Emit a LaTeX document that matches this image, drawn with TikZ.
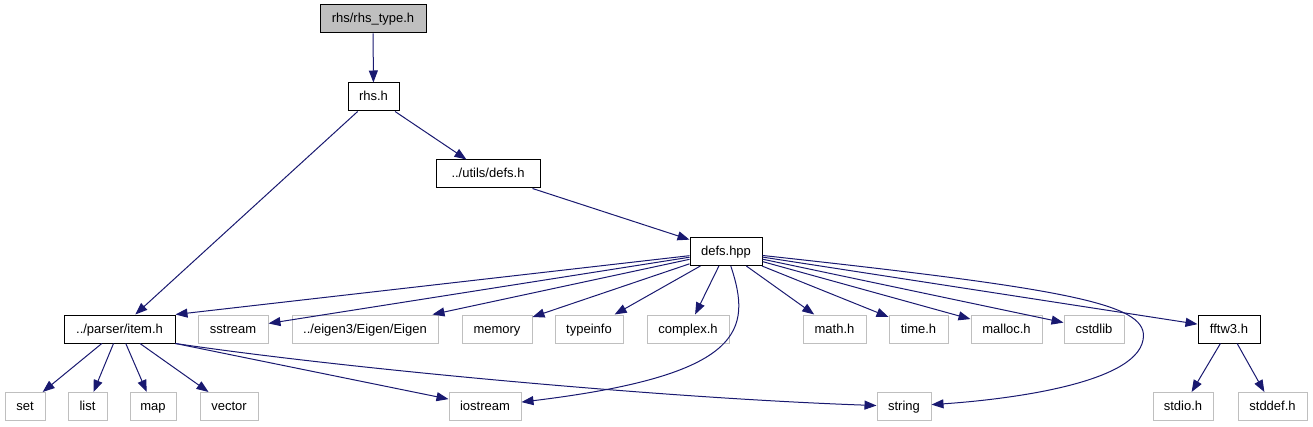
\documentclass[tikz,border=0pt]{standalone}
\usepackage{fontspec}
\setmainfont{Liberation Sans}
\usetikzlibrary{arrows.meta}
\definecolor{edgeblue}{HTML}{191970}
\definecolor{extgray}{HTML}{BFBFBF}

\begin{document}
\begin{tikzpicture}[
    x=1pt,y=-1pt,font=\fontsize{13}{15}\selectfont,
    header/.style={draw,line width=1pt,inner sep=0pt,minimum height=28pt,
        minimum width=#1,text height=11pt,text depth=3pt},
    system/.style={header=#1,draw=extgray},
    current/.style={header=#1,fill=extgray},
    dep/.style={draw=edgeblue,line width=1pt,
        -{Triangle[length=12pt,width=9pt]}}
]
    \useasboundingbox (0,0) rectangle (1313,427);

    % Project headers, top of the include chain.
    \node[current=106] (rhstype) at (373,19) {rhs/rhs\_type.h};
    \node[header=51] (rhs) at (373.5,97) {rhs.h};
    \node[header=104] (udefs) at (488,174) {../utils/defs.h};
    \node[header=72] (defs) at (726,251.5) {defs.hpp};

    % Row included by defs.hpp.
    \node[header=111] (item) at (119.5,329) {../parser/item.h};
    \node[system=70] (sstream) at (233,329) {sstream};
    \node[system=146] (eigen) at (365,329) {../eigen3/Eigen/Eigen};
    \node[system=70] (memory) at (497,329) {memory};
    \node[system=68] (typeinfo) at (589,329) {typeinfo};
    \node[system=82] (complex) at (688,329) {complex.h};
    \node[system=63] (math) at (834.5,329) {math.h};
    \node[system=59] (time) at (918.5,329) {time.h};
    \node[system=71] (malloc) at (1006.5,329) {malloc.h};
    \node[system=60] (cstdlib) at (1094,329) {cstdlib};
    \node[header=62] (fftw) at (1229,329) {fftw3.h};

    % Bottom row: standard headers.
    \node[system=40] (set) at (25,406.5) {set};
    \node[system=39] (list) at (87.5,406.5) {list};
    \node[system=46] (map) at (153,406.5) {map};
    \node[system=58] (vector) at (229,406.5) {vector};
    \node[system=72] (iostream) at (485,406.5) {iostream};
    \node[system=54] (string) at (904,406.5) {string};
    \node[system=60] (stdio) at (1183,406.5) {stdio.h};
    \node[system=69] (stddef) at (1272.5,406.5) {stddef.h};

    \draw[dep] (rhstype) -- (rhs);
    \draw[dep] (rhs) -- (item);
    \draw[dep] (rhs) -- (udefs);
    \draw[dep] (udefs) -- (defs);

    % defs.hpp fans out to the middle row.
    \draw[dep] (defs) -- (item.north east);
    \foreach \target in {sstream,eigen,memory,typeinfo,complex,math,time,malloc,cstdlib,fftw}
        \draw[dep] (defs) -- (\target);
    \draw[dep] (defs) .. controls (752,330) and (745,375) .. (iostream);
    \draw[dep] (defs) .. controls (1080,290) and (1150,305) .. (1143,340)
        .. controls (1135,385) and (1000,400) .. (string);

    \foreach \target in {set,list,map,vector}
        \draw[dep] (item) -- (\target);
    \draw[dep] (item.south east) -- (iostream);
    \draw[dep] (item.south east) .. controls (340,368) and (660,398) .. (string);

    \draw[dep] (fftw) -- (stdio);
    \draw[dep] (fftw) -- (stddef);
\end{tikzpicture}
\end{document}
